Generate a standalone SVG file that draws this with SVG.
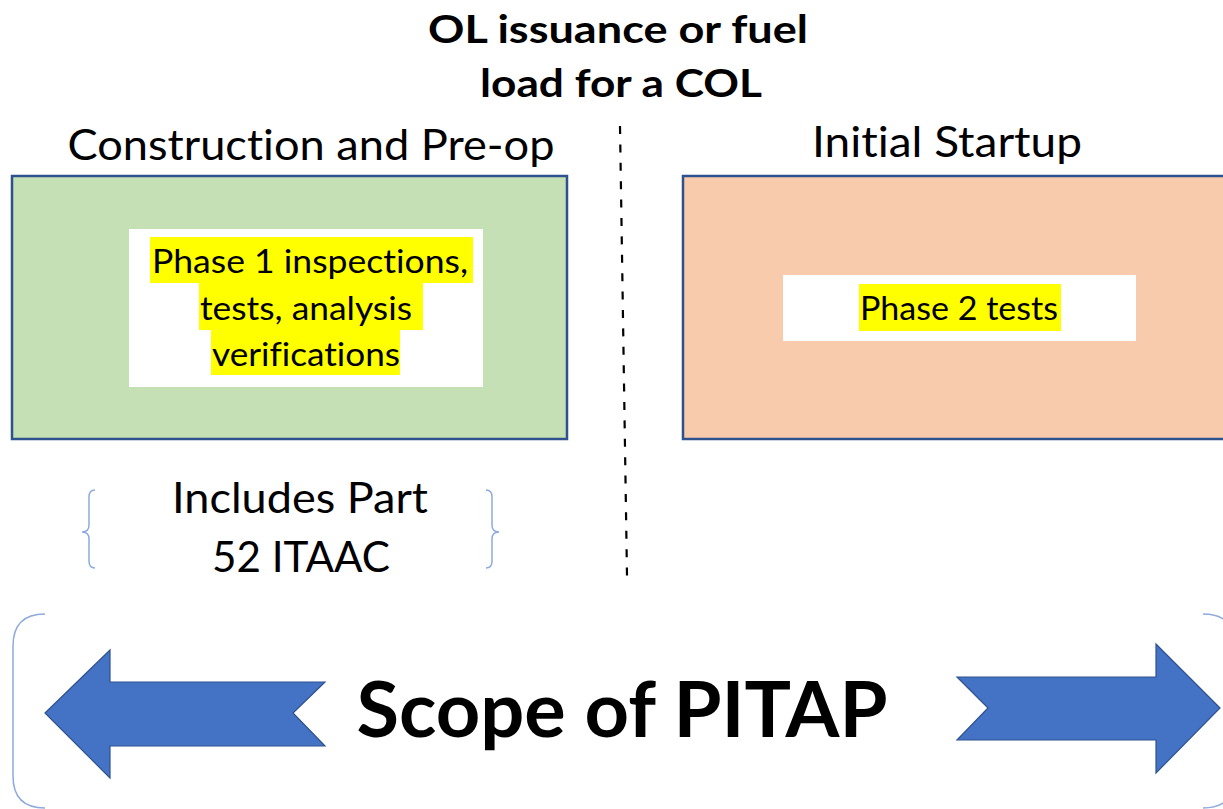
<svg xmlns="http://www.w3.org/2000/svg" width="1223" height="809" viewBox="0 0 1223 809">
<style>
.t{font-family:Lato,"Open Sans","Liberation Sans",sans-serif;fill:#000;font-variant-ligatures:none;font-feature-settings:"liga" 0}
.b{font-weight:bold}
.box{stroke:#2F528F;stroke-width:2.5}
.hl{fill:#FFFF00}
.arrow{fill:#4472C4;stroke:#2F528F;stroke-width:1.2;stroke-linejoin:miter}
.brace{fill:none;stroke:#8FAADC;stroke-width:1.5}
</style>
<rect width="1223" height="809" fill="#FFFFFF"/>
<g id="title">
<text class="t b" x="618" y="43" font-size="39" text-anchor="middle" textLength="380" lengthAdjust="spacingAndGlyphs">OL issuance or fuel</text>
<text class="t b" x="621" y="97" font-size="39" text-anchor="middle" textLength="282" lengthAdjust="spacingAndGlyphs">load for a COL</text>
</g>
<g id="connectors">
<line x1="620" y1="126" x2="627" y2="576" stroke="#000" stroke-width="2.2" stroke-dasharray="8 10.4"/>
</g>
<g id="construction">
<text class="t" x="311" y="160" font-size="42" text-anchor="middle" textLength="487" lengthAdjust="spacingAndGlyphs">Construction and Pre-op</text>
<rect class="box" x="12" y="176" width="555" height="263" fill="#C5E0B4"/>
<rect x="129" y="229" width="354" height="158" fill="#FFFFFF"/>
<rect class="hl" x="150" y="237" width="323" height="46"/>
<rect class="hl" x="199" y="283" width="224" height="47"/>
<rect class="hl" x="211" y="330" width="189" height="45"/>
<text class="t" x="310" y="273" font-size="33" text-anchor="middle" textLength="316" lengthAdjust="spacingAndGlyphs">Phase 1 inspections,</text>
<text class="t" x="306" y="320" font-size="33" text-anchor="middle" textLength="212" lengthAdjust="spacingAndGlyphs">tests, analysis</text>
<text class="t" x="306" y="366" font-size="33" text-anchor="middle" textLength="188" lengthAdjust="spacingAndGlyphs">verifications</text>
</g>
<g id="startup">
<text class="t" x="947" y="157" font-size="42" text-anchor="middle" textLength="270" lengthAdjust="spacingAndGlyphs">Initial Startup</text>
<rect class="box" x="683" y="176" width="560" height="263" fill="#F8CBAD"/>
<rect x="783" y="275" width="353" height="66" fill="#FFFFFF"/>
<rect class="hl" x="859" y="284" width="202" height="47"/>
<text class="t" x="959" y="320" font-size="33" text-anchor="middle" textLength="198" lengthAdjust="spacingAndGlyphs">Phase 2 tests</text>
</g>
<g id="itaac">
<path class="brace" d="M95,490 Q89,490 89,497 L89,525 Q89,532 82,532 Q89,532 89,539 L89,561 Q89,568 95,568"/>
<path class="brace" d="M486,490 Q492,490 492,497 L492,525 Q492,532 499,532 Q492,532 492,539 L492,561 Q492,568 486,568"/>
<text class="t" x="300" y="513" font-size="42" text-anchor="middle" textLength="256" lengthAdjust="spacingAndGlyphs">Includes Part</text>
<text class="t" x="301" y="572" font-size="42" text-anchor="middle" textLength="178" lengthAdjust="spacingAndGlyphs">52 ITAAC</text>
</g>
<g id="scope">
<path d="M45,614 Q13,614 13,646 L13,776 Q13,808 45,808" fill="none" stroke="#8FAADC" stroke-width="1.5"/>
<path d="M1203,614 Q1235,614 1235,646 L1235,776 Q1235,808 1203,808" fill="none" stroke="#8FAADC" stroke-width="1.5"/>
<polygon class="arrow" points="45,713 110,650 110,682 325,682 293,713 325,746 110,746 110,778"/>
<polygon class="arrow" points="1220,708 1156,644 1156,677 957,677 988,708 957,740 1156,740 1156,773"/>
<text class="t b" x="622" y="737" font-size="77" text-anchor="middle" textLength="531" lengthAdjust="spacingAndGlyphs">Scope of PITAP</text>
</g>
</svg>
